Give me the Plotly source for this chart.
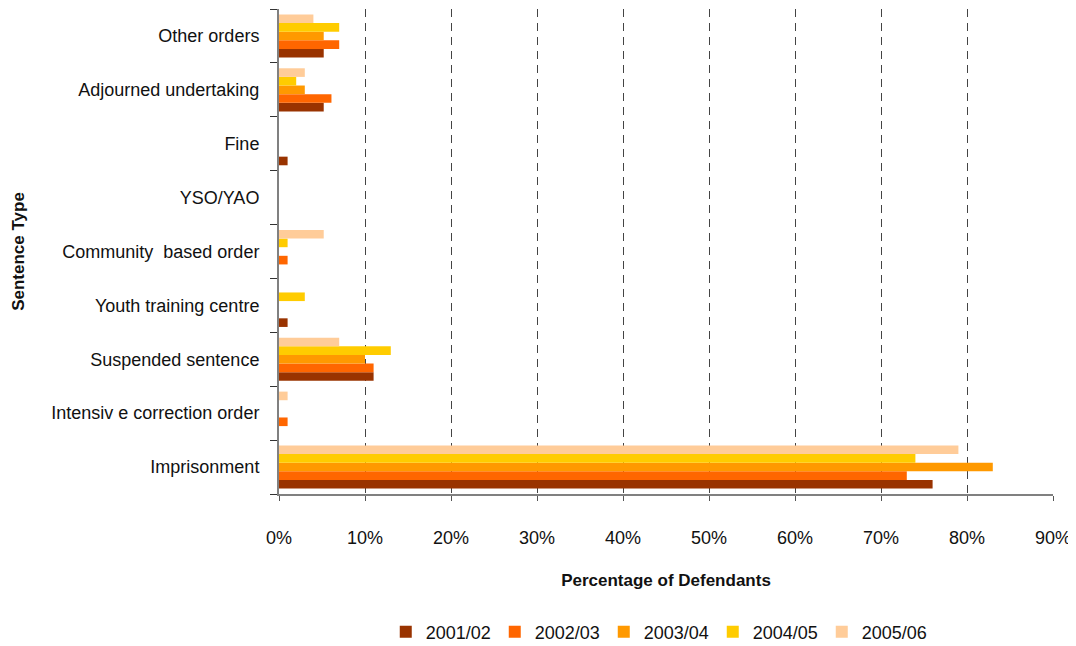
import plotly.graph_objects as go

y_labels = ["Imprisonment", "Intensiv e correction order", "Suspended sentence",
            "Youth training centre", "Community  based order", "YSO/YAO",
            "Fine", "Adjourned undertaking", "Other orders"]

series_names = ["2001/02", "2002/03", "2003/04", "2004/05", "2005/06"]
v2001 = [76, 0, 11, 1, 0, 0, 1, 5.2, 5.2]
v2002 = [73, 1, 11, 0, 1, 0, 0, 6.1, 7]
v2003 = [83, 0, 10, 0, 0, 0, 0, 3, 5.2]
v2004 = [74, 0, 13, 3, 1, 0, 0, 2, 7]
v2005 = [79, 1, 7, 0, 5.2, 0, 0, 3, 4]
colors = ["#993300", "#FF6600", "#FF9900", "#FFCC00", "#FFCC99"]

x_ticks = [0, 10, 20, 30, 40, 50, 60, 70, 80, 90]
x_ticklabels = [f"{t}%" for t in x_ticks]

fig = go.Figure()
for name, vals, col in zip(series_names, [v2001, v2002, v2003, v2004, v2005], colors):
    fig.add_trace(go.Bar(y=y_labels, x=vals, name=name, orientation="h",
                         marker=dict(color=col, line=dict(width=0))))

font = "Liberation Sans, Arial, sans-serif"
fig.update_layout(
    barmode="group", bargap=0.2, bargroupgap=0,
    width=1068, height=638,
    margin=dict(l=271, r=23, t=1, b=152, autoexpand=False),
    plot_bgcolor="white", paper_bgcolor="white",
    font=dict(family=font, size=18, color="#111111"),
    showlegend=True,
    legend=dict(orientation="h", x=0.49, xanchor="center", y=-0.2845, yanchor="middle",
                font=dict(size=18), traceorder="normal",
                entrywidth=64, entrywidthmode="pixels"),
    xaxis=dict(range=[0, 90], tickvals=x_ticks, ticktext=x_ticklabels,
               showgrid=True, gridcolor="#444444", griddash="8px,6px", gridwidth=1,
               showline=True, linecolor="#808080", linewidth=2,
               ticks="outside", ticklen=5, tickcolor="#555555",
               zeroline=False, tickfont=dict(size=18), ticklabelstandoff=21,
               automargin=False,
               title=dict(text="<b>Percentage of Defendants</b>", font=dict(size=17), standoff=28)),
    yaxis=dict(categoryorder="array", categoryarray=y_labels,
               showline=True, linecolor="#808080", linewidth=2,
               ticks="outside", ticklen=7, tickcolor="#333333", tickson="boundaries",
               showgrid=False, tickfont=dict(size=18), ticklabelstandoff=14,
               automargin=False,
               title=dict(text="<b>Sentence Type</b>", font=dict(size=17), standoff=22)),
)
fig.write_html("out.html")
